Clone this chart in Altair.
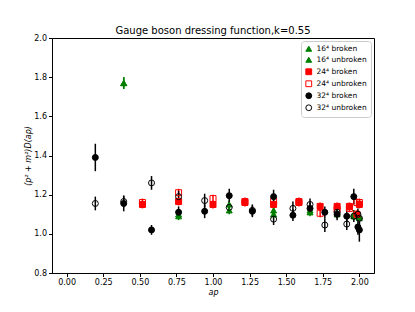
import altair as alt
import pandas as pd

series_names = ["16⁴ broken", "16⁴ unbroken", "24⁴ broken", "24⁴ unbroken", "32⁴ broken", "32⁴ unbroken"]
series_stroke = ["#008000", "#008000", "#ff0000", "#ff0000", "#000000", "#000000"]
series_fill = ["#008000", "#008000", "#ff0000", "transparent", "#000000", "transparent"]
series_shape = ["triangle-up", "triangle-up", "square", "square", "circle", "circle"]

ap16 = [0.390, 0.765, 1.111, 1.414, 1.663, 1.848, 1.962, 2.000]
ap24 = [0.518, 0.765, 1.000, 1.218, 1.414, 1.587, 1.732, 1.848, 1.932, 1.983, 2.000]
ap32 = [0.196, 0.390, 0.580, 0.765, 0.943, 1.111, 1.269, 1.414, 1.546, 1.663, 1.764, 1.848, 1.914, 1.962, 1.990, 2.000]

d16b = [1.77, 1.09, 1.15, 1.12, 1.12, 1.105, 1.10, 1.09]
e16b = [0.03, 0.02, 0.02, 0.02, 0.02, 0.02, 0.02, 0.02]
d16u = [1.77, 1.10, 1.12, 1.10, 1.11, 1.10, 1.09, 1.08]
e16u = [0.03, 0.02, 0.02, 0.02, 0.02, 0.02, 0.02, 0.02]

d24b = [1.15, 1.165, 1.15, 1.16, 1.15, 1.16, 1.14, 1.14, 1.14, 1.10, 1.15]
e24b = [0.02, 0.02, 0.02, 0.02, 0.02, 0.02, 0.02, 0.02, 0.02, 0.02, 0.02]
d24u = [1.16, 1.21, 1.18, 1.165, 1.165, 1.165, 1.105, 1.125, 1.13, 1.16, 1.16]
e24u = [0.02, 0.02, 0.02, 0.02, 0.02, 0.02, 0.02, 0.02, 0.02, 0.02, 0.02]

d32b = [1.39, 1.155, 1.02, 1.11, 1.115, 1.195, 1.115, 1.19, 1.095, 1.13, 1.11, 1.10, 1.09, 1.19, 1.035, 1.02]
e32b = [0.07, 0.04, 0.025, 0.03, 0.035, 0.035, 0.03, 0.035, 0.03, 0.03, 0.03, 0.03, 0.03, 0.04, 0.04, 0.06]
d32u = [1.155, 1.165, 1.26, 1.19, 1.17, 1.135, 1.12, 1.075, 1.13, 1.15, 1.045, 1.11, 1.05, 1.09, 1.10, 1.08]
e32u = [0.035, 0.03, 0.035, 0.03, 0.035, 0.03, 0.03, 0.03, 0.035, 0.03, 0.035, 0.03, 0.03, 0.03, 0.03, 0.03]

x_ticks = [0.0, 0.25, 0.5, 0.75, 1.0, 1.25, 1.5, 1.75, 2.0]
y_ticks = [0.8, 1.0, 1.2, 1.4, 1.6, 1.8, 2.0]

rows = []
for name, xs, ys, es in [
    (series_names[0], ap16, d16b, e16b),
    (series_names[1], ap16, d16u, e16u),
    (series_names[2], ap24, d24b, e24b),
    (series_names[3], ap24, d24u, e24u),
    (series_names[4], ap32, d32b, e32b),
    (series_names[5], ap32, d32u, e32u),
]:
    for x, y, e in zip(xs, ys, es):
        rows.append({"series": name, "order": series_names.index(name), "ap": x, "D": y,
                     "lo": y - e, "hi": y + e})
df = pd.DataFrame(rows)

xscale = alt.Scale(domain=[-0.1, 2.1], nice=False, zero=False)
yscale = alt.Scale(domain=[0.8, 2.0], nice=False, zero=False)
stroke_scale = alt.Scale(domain=series_names, range=series_stroke)
xaxis = alt.Axis(values=x_ticks, format=".2f", labelOverlap=False)
yaxis = alt.Axis(values=y_ticks, format=".1f", labelOverlap=False)

base = alt.Chart(df)

bars = base.mark_rule(strokeWidth=1.5).encode(
    x=alt.X("ap:Q", scale=xscale, title="ap", axis=xaxis),
    y=alt.Y("lo:Q", scale=yscale, title="(p² + m²)D(ap)", axis=yaxis),
    y2="hi:Q",
    stroke=alt.Stroke("series:N", scale=stroke_scale, title=""),
    order="order:Q",
)

pts = base.mark_point(filled=True, size=36, strokeWidth=1, opacity=1).encode(
    x=alt.X("ap:Q", scale=xscale, title="ap", axis=xaxis),
    y=alt.Y("D:Q", scale=yscale, title="(p² + m²)D(ap)", axis=yaxis),
    fill=alt.Fill("series:N", scale=alt.Scale(domain=series_names, range=series_fill), title=""),
    stroke=alt.Stroke("series:N", scale=stroke_scale, title=""),
    shape=alt.Shape("series:N", scale=alt.Scale(domain=series_names, range=series_shape), title=""),
    order="order:Q",
)

chart = alt.layer(bars, pts).properties(
    width=322,
    height=235,
    autosize="none",
    padding={"left": 44, "top": 30, "right": 33, "bottom": 31},
    title=alt.TitleParams("Gauge boson dressing function,k=0.55", fontSize=10,
                          font="DejaVu Sans", fontWeight="normal", offset=-2, color="#000"),
).configure_view(
    stroke="#000", strokeWidth=1
).configure_axis(
    grid=False,
    domainColor="#000",
    tickColor="#000",
    tickSize=3.5,
    labelFont="DejaVu Sans",
    labelFontSize=8,
    labelColor="#000",
    titleFont="DejaVu Sans",
    titleFontSize=8,
    titleFontStyle="italic",
    titleFontWeight="normal",
    titleColor="#000",
    labelPadding=2,
).configure_axisX(
    titlePadding=2,
).configure_axisY(
    titlePadding=1,
).configure_legend(
    orient="top-right",
    offset=3,
    padding=4,
    strokeColor="#cccccc",
    fillColor="white",
    cornerRadius=3,
    labelFont="DejaVu Sans",
    labelFontSize=7.5,
    labelColor="#000",
    symbolSize=34,
    symbolStrokeWidth=1,
    rowPadding=1,
    titlePadding=0,
)

chart.save("out.html", embed_options={"renderer": "svg", "actions": False})
